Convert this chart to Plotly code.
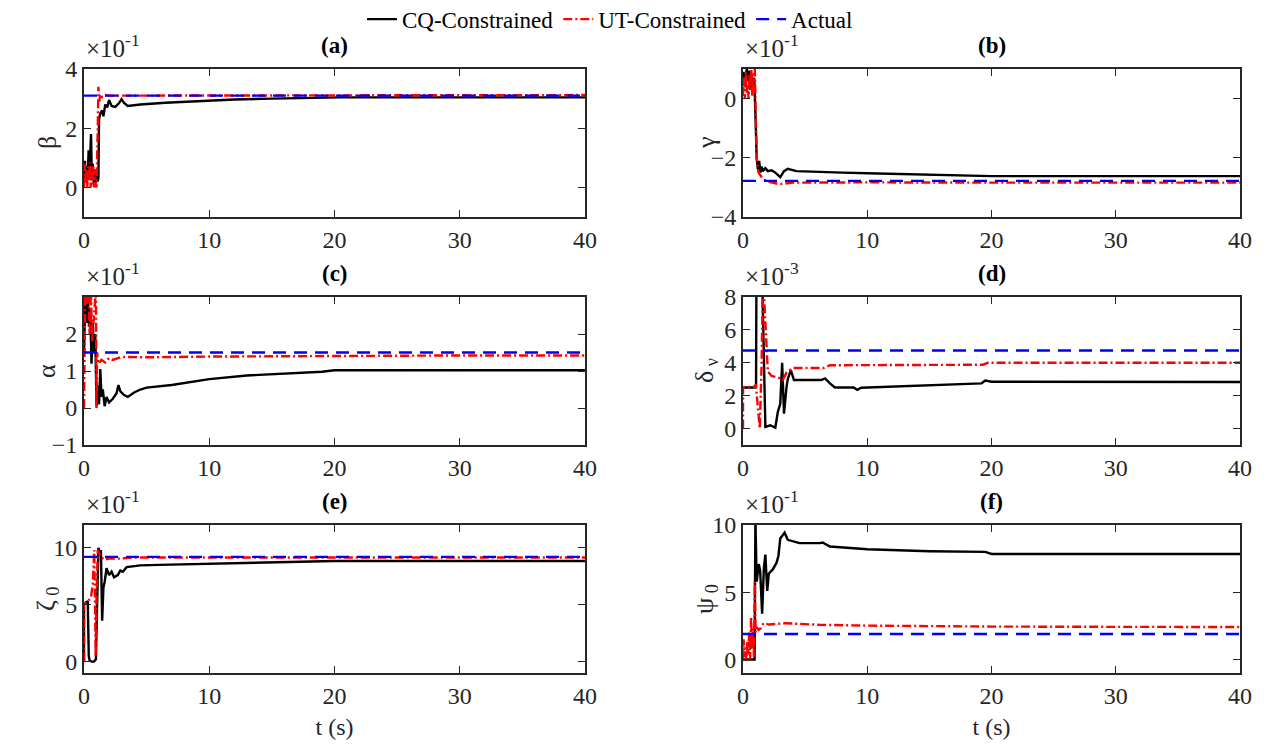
import plotly.graph_objects as go

# ---------------- data ----------------
# (a) beta  [x 1e-1]
a_cq_t = [0, 0.08, 0.15, 0.22, 0.3, 0.37, 0.43, 0.5, 0.56, 0.62, 0.7, 0.78, 0.85, 0.92, 1.0, 1.08, 1.15, 1.2, 1.3, 1.45, 1.55, 1.7, 1.85, 2.0, 2.2, 2.5, 2.8, 3.0, 3.2, 3.5, 4.0, 4.5, 6.5, 9.0, 12, 15, 18, 19.5, 20.5, 25, 30, 40]
a_cq_v = [0.3, 0.9, 0.2, 0.7, 0.4, 1.25, 0.3, 1.0, 1.8, 0.4, 0.8, 0.1, 0.6, 0.15, 0.5, 0.2, 0.3, 2.3, 2.5, 2.6, 2.4, 2.8, 2.7, 2.95, 2.75, 2.72, 2.85, 2.98, 2.85, 2.75, 2.78, 2.8, 2.86, 2.92, 2.97, 3.0, 3.02, 3.03, 3.04, 3.04, 3.04, 3.04]
a_ut_t = [0, 0.07, 0.14, 0.2, 0.27, 0.33, 0.4, 0.47, 0.53, 0.6, 0.67, 0.73, 0.8, 0.87, 0.93, 1.0, 1.1, 1.15, 1.22, 1.3, 1.45, 1.7, 2.0, 3, 5, 10, 20, 30, 40]
a_ut_v = [0.0, 0.8, 0.1, 0.6, 0.0, 0.7, 0.2, 0.85, 0.0, 0.5, 0.1, 0.75, 0.0, 0.6, 0.1, 0.0, 2.0, 3.4, 2.9, 3.15, 3.05, 3.12, 3.1, 3.1, 3.1, 3.11, 3.12, 3.12, 3.12]
a_actual = 3.1

# (b) gamma  [x 1e-1]
b_cq_t = [0, 0.1, 0.2, 0.3, 0.4, 0.5, 0.6, 0.7, 0.8, 0.9, 1.0, 1.1, 1.2, 1.3, 1.4, 1.5, 1.6, 1.8, 2.0, 2.3, 2.6, 3.0, 3.3, 3.6, 4.3, 6, 8, 10, 14, 18, 20, 25, 30, 40]
b_cq_v = [0.5, 0.9, 0.4, 1.0, 0.6, 0.95, 0.3, 0.8, 0.5, 0.7, -0.5, -2.0, -2.4, -2.1, -2.5, -2.3, -2.45, -2.35, -2.45, -2.42, -2.5, -2.65, -2.45, -2.37, -2.45, -2.48, -2.5, -2.52, -2.57, -2.6, -2.62, -2.62, -2.62, -2.62]
b_ut_t = [0, 0.07, 0.15, 0.22, 0.3, 0.37, 0.45, 0.52, 0.6, 0.67, 0.75, 0.82, 0.9, 0.95, 1.1, 1.25, 1.5, 1.75, 2.2, 2.8, 3.2, 4, 6, 10, 20, 30, 40]
b_ut_v = [0.1, 0.7, 0.0, 0.9, 0.2, 0.5, 0.0, 0.8, 0.3, 1.0, 0.1, 0.6, 0.9, 1.0, -2.0, -2.5, -2.65, -2.75, -2.82, -2.88, -2.88, -2.84, -2.83, -2.83, -2.84, -2.84, -2.84]
b_actual = -2.78

# (c) alpha  [x 1e-1]
c_cq_t = [0, 0.1, 0.2, 0.3, 0.4, 0.5, 0.6, 0.7, 0.8, 0.9, 1.0, 1.1, 1.2, 1.3, 1.4, 1.5, 1.65, 1.8, 2.0, 2.3, 2.6, 2.75, 2.9, 3.2, 3.5, 4.0, 4.5, 5, 7, 10, 13, 16, 19, 20, 25, 30, 40]
c_cq_v = [1.5, 2.8, 2.3, 2.9, 2.2, 2.7, 1.2, 2.3, 1.5, 2.0, 0.05, 0.6, 0.1, 1.05, 0.3, 0.5, 0.05, 0.3, 0.15, 0.25, 0.4, 0.62, 0.45, 0.35, 0.3, 0.42, 0.5, 0.55, 0.62, 0.78, 0.88, 0.93, 0.98, 1.02, 1.02, 1.02, 1.02]
c_ut_t = [0, 0.1, 0.25, 0.35, 0.45, 0.55, 0.65, 0.8, 0.95, 1.0, 1.05, 1.15, 1.4, 1.7, 2.0, 2.3, 2.9, 3.4, 5, 10, 20, 30, 40]
c_ut_v = [0.0, 3.2, 2.8, 3.2, 2.0, 3.2, 1.8, 2.4, 3.2, 0.0, 1.5, 1.2, 1.3, 1.23, 1.35, 1.3, 1.37, 1.38, 1.37, 1.39, 1.41, 1.42, 1.42]
c_actual = 1.5

# (d) delta_nu  [x 1e-3]
d_cq_t = [0, 1.0, 1.05, 1.08, 1.55, 1.7, 1.8, 2.2, 2.6, 2.8, 3.0, 3.15, 3.3, 3.5, 3.6, 3.85, 4.1, 6.3, 6.6, 7.0, 7.4, 8.9, 9.2, 9.5, 12, 15, 18, 19.2, 19.5, 20, 40]
d_cq_v = [2.5, 2.5, 2.6, 9.0, 9.0, 3.5, 0.1, 0.2, 0.05, 1.0, 1.5, 4.0, 0.9, 2.5, 3.0, 3.55, 2.95, 2.95, 3.05, 2.75, 2.5, 2.5, 2.35, 2.48, 2.55, 2.62, 2.7, 2.75, 2.92, 2.85, 2.83]
d_ut_t = [0, 0.001, 0.95, 1.03, 1.35, 1.5, 1.6, 1.7, 2.0, 2.3, 2.85, 3.2, 3.5, 4.0, 4.8, 6.5, 7.0, 10, 15, 19.3, 19.7, 30, 40]
d_ut_v = [0.0, 2.5, 2.55, 2.7, 0.0, 4.0, 9.0, 8.0, 3.46, 3.2, 3.1, 2.95, 3.4, 3.68, 3.68, 3.68, 3.85, 3.85, 3.87, 3.88, 4.0, 4.0, 4.0]
d_actual = 4.75

# (e) zeta_0  [x 1e-1]
e_cq_t = [0, 0.001, 0.15, 0.3, 0.38, 0.45, 0.6, 0.8, 0.95, 1.05, 1.15, 1.25, 1.35, 1.45, 1.55, 1.65, 1.8, 2.0, 2.2, 2.4, 2.7, 2.9, 3.1, 3.4, 4.5, 6, 8, 10, 14, 18, 20, 40]
e_cq_v = [0, 5.0, 5.2, 5.3, 0.5, 0.1, 0.0, 0.0, 0.2, 6.0, 10.0, 9.5, 9.8, 3.6, 6.5, 7.0, 8.2, 7.6, 7.9, 7.4, 7.6, 8.0, 7.9, 8.3, 8.45, 8.5, 8.55, 8.6, 8.7, 8.8, 8.84, 8.84]
e_ut_t = [0, 0.001, 0.3, 0.55, 0.7, 0.82, 0.88, 0.93, 1.0, 1.1, 1.3, 1.6, 2.0, 2.8, 4, 10, 20, 40]
e_ut_v = [0, 5.0, 5.3, 5.6, 6.8, 9.8, 5.0, 0.5, 5.5, 9.8, 9.3, 8.95, 9.05, 9.05, 9.15, 9.15, 9.15, 9.15]
e_actual = 9.2

# (f) psi_0  [x 1e-1]
f_cq_t = [0, 0.5, 0.93, 1.0, 1.1, 1.27, 1.38, 1.54, 1.68, 1.8, 1.95, 2.08, 2.4, 2.7, 2.85, 3.0, 3.35, 3.6, 4.55, 6.2, 6.4, 7.0, 8.8, 10, 15, 19.5, 20, 30, 40]
f_cq_v = [0.0, 0.0, 0.0, 10.5, 5.8, 7.1, 6.6, 3.4, 6.8, 7.8, 5.1, 6.4, 6.7, 7.2, 7.7, 9.0, 9.43, 8.9, 8.65, 8.65, 8.7, 8.4, 8.25, 8.2, 8.05, 8.0, 7.85, 7.85, 7.85]
f_ut_t = [0, 0.05, 0.12, 0.2, 0.27, 0.35, 0.42, 0.5, 0.57, 0.65, 0.72, 0.8, 0.88, 0.95, 1.02, 1.1, 1.25, 1.45, 1.65, 1.8, 2.1, 3.4, 6.2, 10, 14, 20, 30, 40]
f_ut_v = [0.0, 1.5, 0.2, 0.9, 0.0, 1.3, 0.4, 2.0, 0.0, 3.2, 0.8, 2.3, 0.2, 5.8, 2.0, 2.4, 2.2, 2.35, 2.7, 2.65, 2.6, 2.7, 2.58, 2.52, 2.48, 2.45, 2.43, 2.42]
f_actual = 1.9

t_span = [0, 40]
x_ticks = [0, 10, 20, 30, 40]

panel_labels = ["(a)", "(b)", "(c)", "(d)", "(e)", "(f)"]
y_titles = ["β", "γ", "α", "δ<sub> ν</sub>", "ζ<sub> 0</sub>", "ψ<sub> 0</sub>"]
exponents = ["-1", "-1", "-1", "-3", "-1", "-1"]
y_ranges = [[-1, 4], [-4, 1], [-1, 3], [-1, 8], [-1, 12], [-1, 10]]
y_ticks = [[0, 2, 4], [-4, -2, 0], [-1, 0, 1, 2], [0, 2, 4, 6, 8], [0, 5, 10], [0, 5, 10]]
legend_names = ["CQ-Constrained", "UT-Constrained", "Actual"]

panels = [
    (a_cq_t, a_cq_v, a_ut_t, a_ut_v, a_actual),
    (b_cq_t, b_cq_v, b_ut_t, b_ut_v, b_actual),
    (c_cq_t, c_cq_v, c_ut_t, c_ut_v, c_actual),
    (d_cq_t, d_cq_v, d_ut_t, d_ut_v, d_actual),
    (e_cq_t, e_cq_v, e_ut_t, e_ut_v, e_actual),
    (f_cq_t, f_cq_v, f_ut_t, f_ut_v, f_actual),
]

# ---------------- layout geometry (page pixels; page body has an 8px margin) ----------------
OFF = 8
W, H = 1269 - OFF, 744 - OFF
FONT = "Liberation Serif, Times New Roman, serif"
AX = "#262626"
col_px = [(84, 585), (743, 1240)]
row_px = [(69, 217), (297, 445), (525, 673)]

def px_x(p):
    return (p - OFF) / W

def px_y(p):
    return 1 - (p - OFF) / H

fig = go.Figure()
layout = dict(
    width=W, height=H,
    margin=dict(l=0, r=0, t=0, b=0, autoexpand=False),
    paper_bgcolor="white", plot_bgcolor="white",
    font=dict(family=FONT, size=23, color=AX),
    showlegend=True,
    legend=dict(orientation="h", x=px_x(610), xanchor="center", y=1.014, yanchor="top",
                font=dict(family=FONT, size=23, color="black"),
                bgcolor="rgba(255,255,255,0)", itemwidth=30, tracegroupgap=0),
)
annotations = []

for i, (cq_t, cq_v, ut_t, ut_v, act) in enumerate(panels):
    r, c = divmod(i, 2)
    n = i + 1
    xa = "x" if n == 1 else f"x{n}"
    ya = "y" if n == 1 else f"y{n}"
    x0, x1 = col_px[c]
    y0, y1 = row_px[r]
    show = (i == 0)
    fig.add_trace(go.Scatter(x=cq_t, y=cq_v, mode="lines", name=legend_names[0],
                             line=dict(color="black", width=2.4), xaxis=xa, yaxis=ya,
                             showlegend=show, legendgroup="cq"))
    fig.add_trace(go.Scatter(x=ut_t, y=ut_v, mode="lines", name=legend_names[1],
                             line=dict(color="red", width=2.4, dash="9px,3px,2px,3px"),
                             xaxis=xa, yaxis=ya, showlegend=show, legendgroup="ut"))
    fig.add_trace(go.Scatter(x=t_span, y=[act, act], mode="lines", name=legend_names[2],
                             line=dict(color="blue", width=2.4, dash="13px,8px"),
                             xaxis=xa, yaxis=ya, showlegend=show, legendgroup="act"))
    xkey = "xaxis" if n == 1 else f"xaxis{n}"
    ykey = "yaxis" if n == 1 else f"yaxis{n}"
    layout[xkey] = dict(
        domain=[px_x(x0), px_x(x1)], anchor=ya, range=[0, 40], automargin=False,
        tickvals=x_ticks, ticks="inside", ticklen=7, tickwidth=1.3, tickcolor=AX,
        showline=True, linecolor=AX, linewidth=2, mirror="ticks",
        showgrid=False, zeroline=False,
        tickfont=dict(family=FONT, size=24, color=AX),
        title=dict(text="t (s)" if r == 2 else "", standoff=10,
                   font=dict(family=FONT, size=24, color=AX)),
    )
    layout[ykey] = dict(
        domain=[px_y(y1), px_y(y0)], anchor=xa, range=y_ranges[i], automargin=False,
        tickvals=y_ticks[i], ticks="inside", ticklen=7, tickwidth=1.3, tickcolor=AX,
        showline=True, linecolor=AX, linewidth=2, mirror="ticks",
        showgrid=False, zeroline=False,
        tickfont=dict(family=FONT, size=24, color=AX),
    )
    # panel title
    annotations.append(dict(text=f"<b>{panel_labels[i]}</b>", xref="paper", yref="paper",
                            x=px_x((x0 + x1) / 2), y=px_y(y0 - 9), xanchor="center",
                            yanchor="bottom", showarrow=False,
                            font=dict(family=FONT, size=23, color="black")))
    # exponent label
    annotations.append(dict(text=f"×10<sup>{exponents[i]}</sup>", xref="paper", yref="paper",
                            x=px_x(x0), y=px_y(y0 - 5), xanchor="left", yanchor="bottom",
                            showarrow=False, font=dict(family=FONT, size=25, color=AX)))
    # y title
    annotations.append(dict(text=y_titles[i], xref="paper", yref="paper",
                            x=px_x(x0 - 37), y=px_y((y0 + y1) / 2), xanchor="center",
                            yanchor="middle", textangle=-90, showarrow=False,
                            font=dict(family=FONT, size=26, color=AX)))

layout["annotations"] = annotations
fig.update_layout(**layout)
fig.write_html("out.html")
